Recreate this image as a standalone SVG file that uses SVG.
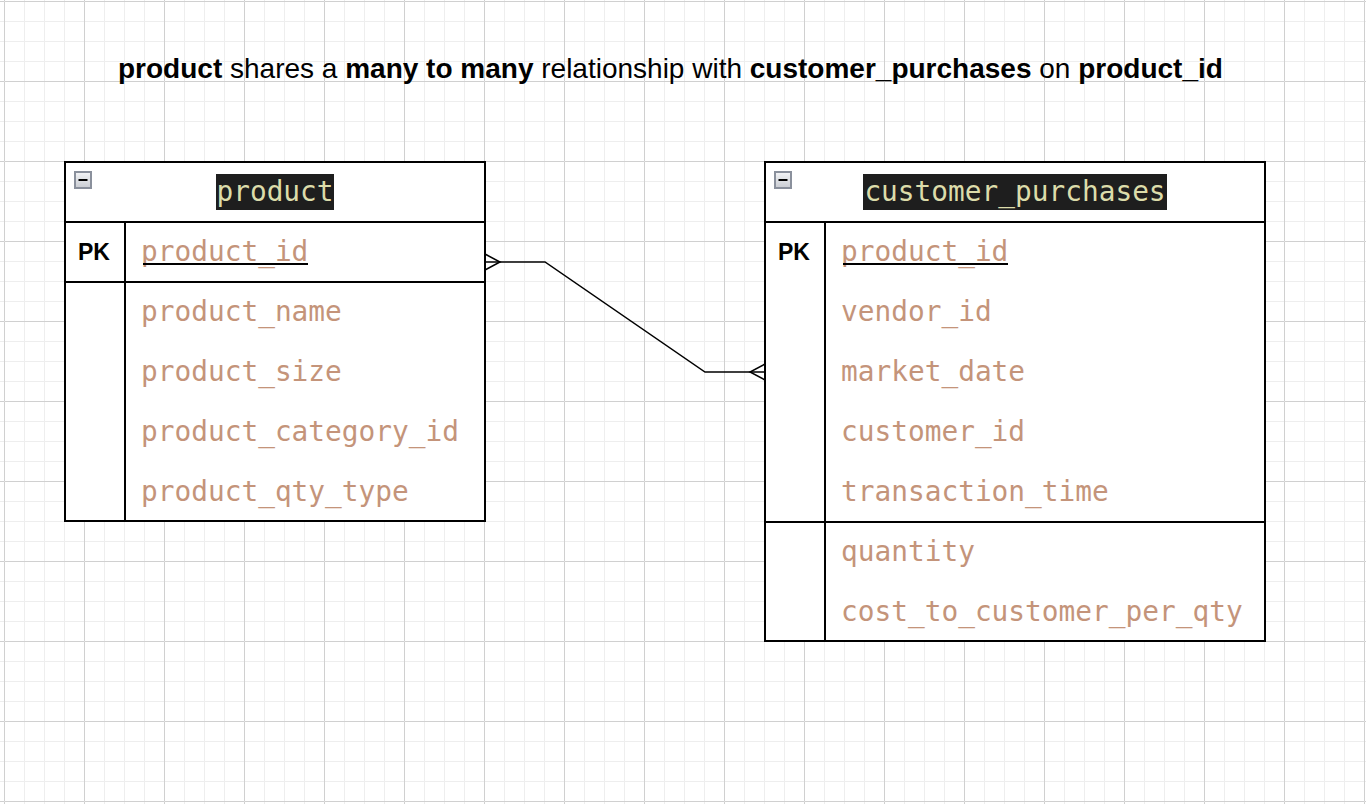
<svg xmlns="http://www.w3.org/2000/svg" width="1366" height="804" viewBox="0 0 1366 804">
<style>
.title{font-family:"Liberation Sans",Arial,sans-serif;font-size:28px;fill:#000}
.b{font-weight:bold}
.hdr{font-family:"DejaVu Sans Mono",monospace;font-size:27.8px;fill:#dcdcaa}
.fld{font-family:"DejaVu Sans Mono",monospace;font-size:27.8px;fill:#c4947a}
.pk{font-family:"Liberation Sans",Arial,sans-serif;font-size:23px;font-weight:bold;fill:#000;text-anchor:middle}
.box{fill:#fff;stroke:#000;stroke-width:2}
.ln{stroke:#000;stroke-width:2;fill:none}
.bg{fill:#fff}
.conn{stroke:#000;stroke-width:1.5;fill:none}
</style>
<defs>
<pattern id="grid" patternUnits="userSpaceOnUse" x="4" y="1" width="80" height="80">
<path d="M20 0V80M40 0V80M60 0V80M0 20H80M0 40H80M0 60H80" stroke="#eeeeee" stroke-width="1" fill="none" transform="translate(0.5 0.5)"/>
<path d="M0 0V80M0 0H80" stroke="#d0d0d0" stroke-width="1" fill="none" transform="translate(0.5 0.5)"/>
</pattern>
<linearGradient id="ic" x1="0" y1="0" x2="0" y2="1">
<stop offset="0" stop-color="#f4f5f7"/>
<stop offset="1" stop-color="#c9ccd2"/>
</linearGradient>
<g id="collapse">
<rect x="0" y="0" width="16" height="16" fill="url(#ic)" stroke="#8a909c" stroke-width="2"/>
<line x1="3.5" y1="8" x2="12.5" y2="8" stroke="#000" stroke-width="2"/>
</g>
</defs>
<rect width="1366" height="804" fill="#fff"/>
<rect width="1366" height="804" fill="url(#grid)"/>

<text class="title" x="118" y="78"><tspan class="b">product</tspan> shares a <tspan class="b">many to many</tspan> relationship with <tspan class="b">customer_purchases</tspan> on <tspan class="b">product_id</tspan></text>

<g id="product">
<rect class="box" x="65" y="162" width="420" height="359"/>
<line class="ln" x1="65" y1="222" x2="485" y2="222"/>
<line class="ln" x1="65" y1="282" x2="485" y2="282"/>
<line class="ln" x1="125" y1="222" x2="125" y2="521"/>
<use href="#collapse" x="75" y="172"/>
<rect x="216" y="174" width="118" height="36" fill="#1e1e1e"/>
<text class="hdr" x="275" y="201" text-anchor="middle">product</text>
<text class="pk" x="94" y="260">PK</text>
<rect class="bg" x="140" y="240" width="169" height="28"/>
<text class="fld" x="141" y="261">product_id</text>
<line x1="143" y1="264" x2="308" y2="264" stroke="#000" stroke-width="2"/>
<rect class="bg" x="140" y="300" width="180" height="28"/>
<text class="fld" x="141" y="321">product_name</text>
<rect class="bg" x="140" y="360" width="203" height="28"/>
<text class="fld" x="141" y="381">product_size</text>
<rect class="bg" x="140" y="420" width="320" height="28"/>
<text class="fld" x="141" y="441">product_category_id</text>
<rect class="bg" x="140" y="480" width="270" height="28"/>
<text class="fld" x="141" y="501">product_qty_type</text>
</g>

<g id="customer_purchases">
<rect class="box" x="765" y="162" width="500" height="479"/>
<line class="ln" x1="765" y1="222" x2="1265" y2="222"/>
<line class="ln" x1="765" y1="522" x2="1265" y2="522"/>
<line class="ln" x1="825" y1="222" x2="825" y2="641"/>
<use href="#collapse" x="775" y="172"/>
<rect x="863" y="174" width="304" height="36" fill="#1e1e1e"/>
<text class="hdr" x="1015" y="201" text-anchor="middle">customer_purchases</text>
<text class="pk" x="794" y="260">PK</text>
<rect class="bg" x="840" y="240" width="169" height="28"/>
<text class="fld" x="841" y="261">product_id</text>
<line x1="843" y1="264" x2="1008" y2="264" stroke="#000" stroke-width="2"/>
<rect class="bg" x="840" y="300" width="152" height="28"/>
<text class="fld" x="841" y="321">vendor_id</text>
<rect class="bg" x="840" y="360" width="186" height="28"/>
<text class="fld" x="841" y="381">market_date</text>
<rect class="bg" x="840" y="420" width="186" height="28"/>
<text class="fld" x="841" y="441">customer_id</text>
<rect class="bg" x="840" y="480" width="270" height="28"/>
<text class="fld" x="841" y="501">transaction_time</text>
<rect class="bg" x="840" y="540" width="136" height="28"/>
<text class="fld" x="841" y="561">quantity</text>
<rect class="bg" x="840" y="600" width="405" height="28"/>
<text class="fld" x="841" y="621">cost_to_customer_per_qty</text>
</g>

<g id="connectors">
<path class="conn" d="M485 262H545L705 372H765"/>
<path class="conn" d="M485 254L500 262L485 270"/>
<path class="conn" d="M765 364L750 372L765 380"/>
</g>
</svg>
